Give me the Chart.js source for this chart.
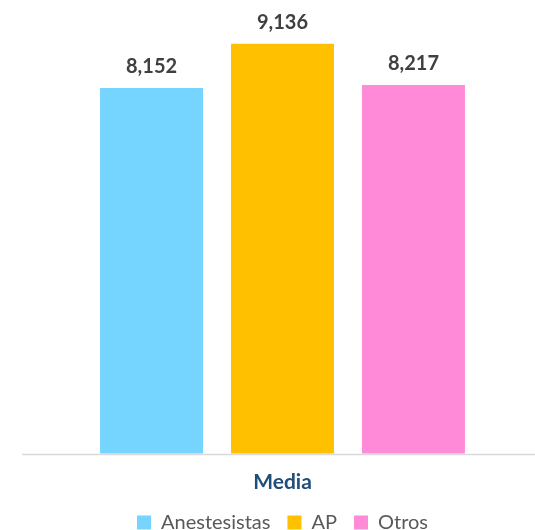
<!DOCTYPE html>
<html><head><meta charset="utf-8">
<script src="https://cdn.jsdelivr.net/npm/chart.js@4"></script>
<style>html,body{margin:0;padding:0;background:#fff}#wrap{width:535px;height:530px}</style>
</head><body><div id="wrap"><canvas id="c" width="535" height="530"></canvas></div>
<script>
const categories = ["Media"];
const seriesNames = ["Anestesistas", "AP", "Otros"];
const valuesAnestesistas = [8.152];
const valuesAP = [9.136];
const valuesOtros = [8.217];
const seriesColors = ["#75D5FF", "#FFC000", "#FF8AD8"];

const fmt = v => v.toFixed(3).replace('.', ',');

const LEGEND_PAD = 17;
const LEGEND_CENTER_Y = 522.5;

const labelPlugin = {
  id: 'valLabels',
  afterDatasetsDraw(chart) {
    const ctx = chart.ctx;
    ctx.save();
    ctx.font = 'bold 20px Lato';
    ctx.fillStyle = '#404040';
    ctx.textAlign = 'center';
    ctx.textBaseline = 'alphabetic';
    chart.data.datasets.forEach((ds, i) => {
      chart.getDatasetMeta(i).data.forEach((bar, j) => {
        ctx.fillText(fmt(ds.data[j]), bar.x, bar.y - 15);
      });
    });
    ctx.restore();
  }
};
const baseLine = {
  id: 'baseLine',
  afterDatasetsDraw(chart) {
    const y = Math.round(chart.scales.y.getPixelForValue(0)) + 0.5;
    const ctx = chart.ctx;
    ctx.save();
    ctx.strokeStyle = '#D9D9D9';
    ctx.lineWidth = 1.5;
    ctx.beginPath();
    ctx.moveTo(22, y);
    ctx.lineTo(535, y);
    ctx.stroke();
    ctx.restore();
  }
};
const legendPos = {
  id: 'legendPos',
  afterLayout(chart) {
    const lg = chart.legend;
    if (!lg) return;
    const h = lg.height;
    lg.top = LEGEND_CENTER_Y - LEGEND_PAD - 10;
    lg.bottom = lg.top + h;
  }
};

new Chart(document.getElementById('c'), {
  type: 'bar',
  data: {
    labels: categories,
    datasets: [
      { label: seriesNames[0], data: valuesAnestesistas, backgroundColor: seriesColors[0] },
      { label: seriesNames[1], data: valuesAP, backgroundColor: seriesColors[1] },
      { label: seriesNames[2], data: valuesOtros, backgroundColor: seriesColors[2] }
    ]
  },
  options: {
    responsive: false,
    animation: false,
    layout: { padding: { top: 5, left: 30, right: 0, bottom: -27.8 } },
    datasets: { bar: { categoryPercentage: 0.778, barPercentage: 0.786 } },
    scales: {
      x: {
        grid: { display: false, drawTicks: false },
        border: { display: false },
        ticks: { padding: 15.9, color: '#1F4E79', font: { family: 'Lato', size: 21, weight: 'bold' } }
      },
      y: { display: false, min: 0, max: 10 }
    },
    plugins: {
      legend: {
        position: 'bottom',
        labels: { boxWidth: 14, boxHeight: 14, padding: LEGEND_PAD, color: '#595959', font: { family: 'Lato', size: 20 } }
      },
      tooltip: { enabled: false }
    }
  },
  plugins: [labelPlugin, baseLine, legendPos]
});
</script></body></html>
